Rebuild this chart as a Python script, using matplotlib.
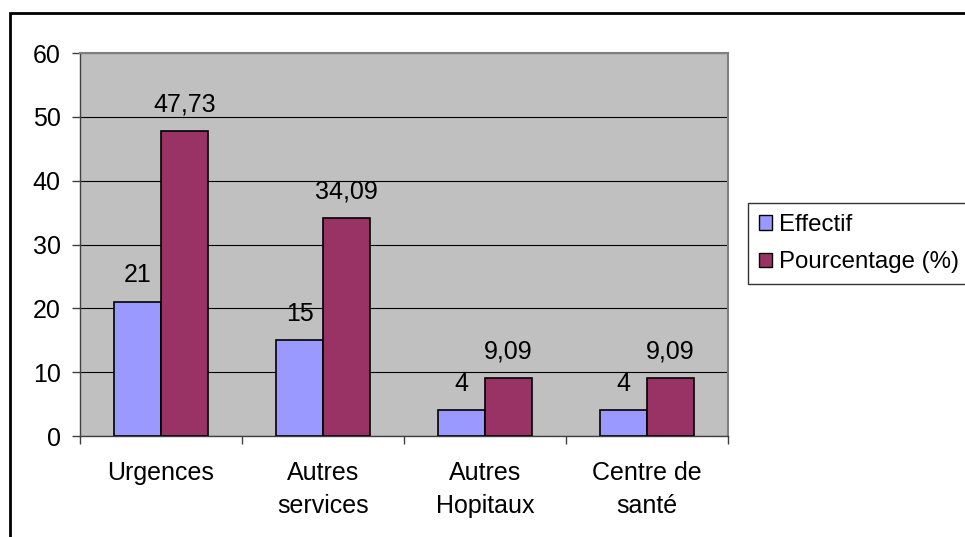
import numpy as np
import matplotlib.pyplot as plt
from matplotlib.patches import Patch, Rectangle

plt.rcParams['font.family'] = ['Liberation Sans', 'DejaVu Sans']

categories = ['Urgences', 'Autres\nservices', 'Autres\nHopitaux', 'Centre de\nsanté']
effectif = [21, 15, 4, 4]
pourcentage = [47.73, 34.09, 9.09, 9.09]
effectif_labels = ['21', '15', '4', '4']
pourcentage_labels = ['47,73', '34,09', '9,09', '9,09']

blue = '#9999FF'
red = '#993366'
fs = 18

fig = plt.figure(figsize=(9.65, 5.37), dpi=100)
ax = fig.add_axes([80 / 965, 1 - 436 / 537, 648 / 965, 383 / 537])
ax.set_facecolor('#C0C0C0')

x = np.arange(len(categories))
w = 0.29
b1 = ax.bar(x - w / 2, effectif, w, color=blue, edgecolor='black', linewidth=1.2, zorder=3)
b2 = ax.bar(x + w / 2, pourcentage, w, color=red, edgecolor='black', linewidth=1.2, zorder=3)

# étiquettes de valeurs au-dessus des barres
for rect, lab in zip(b1, effectif_labels):
    ax.annotate(lab, (rect.get_x() + rect.get_width() / 2, rect.get_height()),
                xytext=(0, 10.5), textcoords='offset points', ha='center', va='bottom', fontsize=fs)
for rect, lab in zip(b2, pourcentage_labels):
    ax.annotate(lab, (rect.get_x() + rect.get_width() / 2, rect.get_height()),
                xytext=(0, 10.5), textcoords='offset points', ha='center', va='bottom', fontsize=fs)

ax.set_xlim(-0.5, len(categories) - 0.5)
ax.set_ylim(0, 60)
ax.set_yticks(range(0, 61, 10))
ax.yaxis.grid(True, color='black', linewidth=0.8, zorder=1)
ax.set_axisbelow(True)

ax.set_xticks(x)
ax.set_xticklabels(categories, fontsize=fs, linespacing=1.45)
ax.tick_params(axis='x', length=0, pad=18)
ax.set_xticks(np.arange(-0.5, len(categories)), minor=True)
ax.tick_params(axis='x', which='minor', length=6, width=1, color='#404040')
ax.tick_params(axis='y', labelsize=fs, length=6, width=1, color='#404040', pad=8)

for s in ['top', 'right']:
    ax.spines[s].set_color('#808080')
    ax.spines[s].set_linewidth(1.5)
for s in ['left', 'bottom']:
    ax.spines[s].set_color('#404040')
    ax.spines[s].set_linewidth(1)

handles = [Patch(facecolor=blue, edgecolor='black', label='Effectif'),
           Patch(facecolor=red, edgecolor='black', label='Pourcentage (%)')]
leg = fig.legend(handles=handles, loc='upper left', bbox_to_anchor=(748 / 965, 1 - 203 / 537),
                 fontsize=17.3, frameon=True, fancybox=False, handlelength=0.55, handleheight=0.55,
                 handletextpad=0.3, borderpad=0.45, labelspacing=0.65, borderaxespad=0)
leg.get_frame().set_edgecolor('black')
leg.get_frame().set_linewidth(1)

fig.patches.append(Rectangle((10 / 965, -0.5), 1.5, 1 - 13 / 537 + 0.5, transform=fig.transFigure,
                             fill=False, edgecolor='black', linewidth=2, zorder=0))

fig.savefig('out.png', dpi=100)
